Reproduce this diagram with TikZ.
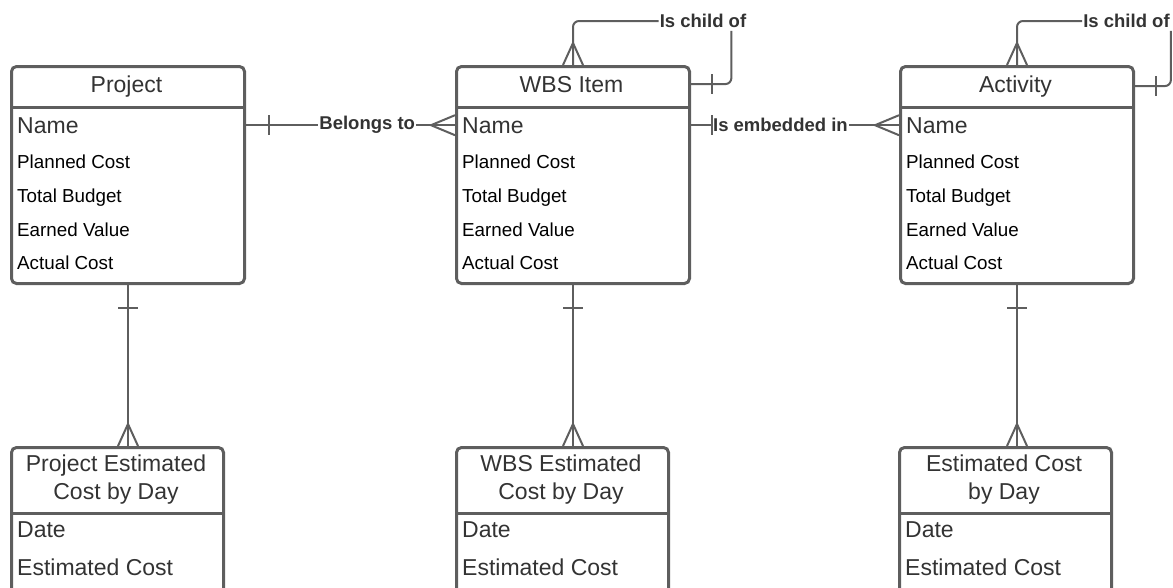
\documentclass[tikz,border=0pt]{standalone}
\usepackage{fontspec}
\setmainfont{Liberation Sans}
\definecolor{boxgray}{HTML}{5E5E5E}
\definecolor{textgray}{HTML}{333333}

\begin{document}
\begin{tikzpicture}[x=1pt,y=-1pt]
    \tikzstyle{every node}+=[inner sep=0pt]
    \tikzstyle{entity}=[draw=boxgray, line width=3pt, rounded corners=5pt, anchor=north west]
    \tikzstyle{divider}=[draw=boxgray, line width=3pt]
    \tikzstyle{rel}=[draw=boxgray, line width=2pt]
    \tikzstyle{title}=[text=textgray, font=\fontsize{23}{28}\selectfont, align=center]
    \tikzstyle{bigfield}=[anchor=base west, text=textgray, font=\fontsize{23}{28}\selectfont]
    \tikzstyle{field}=[anchor=base west, text=black, font=\fontsize{18.8}{22}\selectfont]
    \tikzstyle{lbl}=[fill=white, inner xsep=1pt, inner ysep=3pt, text=textgray, font=\bfseries\fontsize{18.5}{22}\selectfont]
    \useasboundingbox (0,0) rectangle (1173,587);
    \node [entity, minimum width=233pt, minimum height=217pt] (proj) at (10,65) {};
    \draw [divider] (proj.west |- 0,107) -- (proj.east |- 0,107);
    \node [title, anchor=base] (projT) at (126.5,92) {Project};
    \node [bigfield] (projName) at (17,133) {Name};
    \node [field] (projPlanned) at (17,168) {Planned Cost};
    \node [field] (projBudget) at (17,202) {Total Budget};
    \node [field] (projEarned) at (17,236) {Earned Value};
    \node [field] (projActual) at (17,269) {Actual Cost};
    \node [entity, minimum width=233pt, minimum height=217pt] (wbs) at (455,65) {};
    \draw [divider] (wbs.west |- 0,107) -- (wbs.east |- 0,107);
    \node [title, anchor=base] (wbsT) at (571.5,92) {WBS Item};
    \node [bigfield] (wbsName) at (462,133) {Name};
    \node [field] (wbsPlanned) at (462,168) {Planned Cost};
    \node [field] (wbsBudget) at (462,202) {Total Budget};
    \node [field] (wbsEarned) at (462,236) {Earned Value};
    \node [field] (wbsActual) at (462,269) {Actual Cost};
    \node [entity, minimum width=233pt, minimum height=217pt] (act) at (899,65) {};
    \draw [divider] (act.west |- 0,107) -- (act.east |- 0,107);
    \node [title, anchor=base] (actT) at (1015.5,92) {Activity};
    \node [bigfield] (actName) at (906,133) {Name};
    \node [field] (actPlanned) at (906,168) {Planned Cost};
    \node [field] (actBudget) at (906,202) {Total Budget};
    \node [field] (actEarned) at (906,236) {Earned Value};
    \node [field] (actActual) at (906,269) {Actual Cost};
    \node [entity, minimum width=212pt, minimum height=160pt] (projcost) at (10,446) {};
    \draw [divider] (projcost.west |- 0,513) -- (projcost.east |- 0,513);
    \node [title, anchor=north] (projcostT) at (116,455) {Project Estimated\\Cost by Day};
    \node [bigfield] (projcostDate) at (17,537) {Date};
    \node [bigfield] (projcostEst) at (17,575) {Estimated Cost};
    \node [entity, minimum width=212pt, minimum height=160pt] (wbscost) at (455,446) {};
    \draw [divider] (wbscost.west |- 0,513) -- (wbscost.east |- 0,513);
    \node [title, anchor=north] (wbscostT) at (561,455) {WBS Estimated\\Cost by Day};
    \node [bigfield] (wbscostDate) at (462,537) {Date};
    \node [bigfield] (wbscostEst) at (462,575) {Estimated Cost};
    \node [entity, minimum width=212pt, minimum height=160pt] (actcost) at (898,446) {};
    \draw [divider] (actcost.west |- 0,513) -- (actcost.east |- 0,513);
    \node [title, anchor=north] (actcostT) at (1004,455) {Estimated Cost\\by Day};
    \node [bigfield] (actcostDate) at (905,537) {Date};
    \node [bigfield] (actcostEst) at (905,575) {Estimated Cost};
    \draw [rel] (projName.west -| proj.east) -- node [lbl, pos=0.58] (belongs) {Belongs to} (wbsName.west -| wbs.west);
    \draw [rel] (projName.west -| proj.east) ++(23,-10) -- ++(0,20);
    \draw [rel] (wbsName.west -| wbs.west) ++(0,-10) -- ++(-24,10) -- ++(24,10);
    \draw [rel] (wbsName.west -| wbs.east) -- node [lbl, pos=0.43] (embedded) {Is embedded in} (actName.west -| act.west);
    \draw [rel] (wbsName.west -| wbs.east) ++(21,-10) -- ++(0,20);
    \draw [rel] (actName.west -| act.west) ++(0,-10) -- ++(-24,10) -- ++(24,10);
    \node [lbl] (wbsChild) at (703,21) {Is child of};
    \draw [rel, rounded corners=6pt] (wbs.north) |- (wbsChild.west);
    \draw [rel, rounded corners=6pt] (wbsChild.south east) ++(-16,0) |- (wbs.east |- wbsT.east);
    \draw [rel] (wbs.east |- wbsT.east) ++(21,-10) -- ++(0,20);
    \draw [rel] (wbs.north) ++(-10,0) -- ++(10,-22) -- ++(10,22);
    \node [lbl] (actChild) at (1126.5,21) {Is child of};
    \draw [rel, rounded corners=6pt] (act.north) |- (actChild.west);
    \draw [rel, rounded corners=6pt] (actChild.south east) |- (act.east |- actT.east);
    \draw [rel] (act.east |- actT.east) ++(21,-10) -- ++(0,20);
    \draw [rel] (act.north) ++(-10,0) -- ++(10,-22) -- ++(10,22);
    \draw [rel] (proj.south) -- (proj.south |- projcost.north);
    \draw [rel] (proj.south) ++(-10,23) -- ++(20,0);
    \draw [rel] (proj.south |- projcost.north) ++(-10,0) -- ++(10,-22) -- ++(10,22);
    \draw [rel] (wbs.south) -- (wbs.south |- wbscost.north);
    \draw [rel] (wbs.south) ++(-10,23) -- ++(20,0);
    \draw [rel] (wbs.south |- wbscost.north) ++(-10,0) -- ++(10,-22) -- ++(10,22);
    \draw [rel] (act.south) -- (act.south |- actcost.north);
    \draw [rel] (act.south) ++(-10,23) -- ++(20,0);
    \draw [rel] (act.south |- actcost.north) ++(-10,0) -- ++(10,-22) -- ++(10,22);
\end{tikzpicture}
\end{document}
